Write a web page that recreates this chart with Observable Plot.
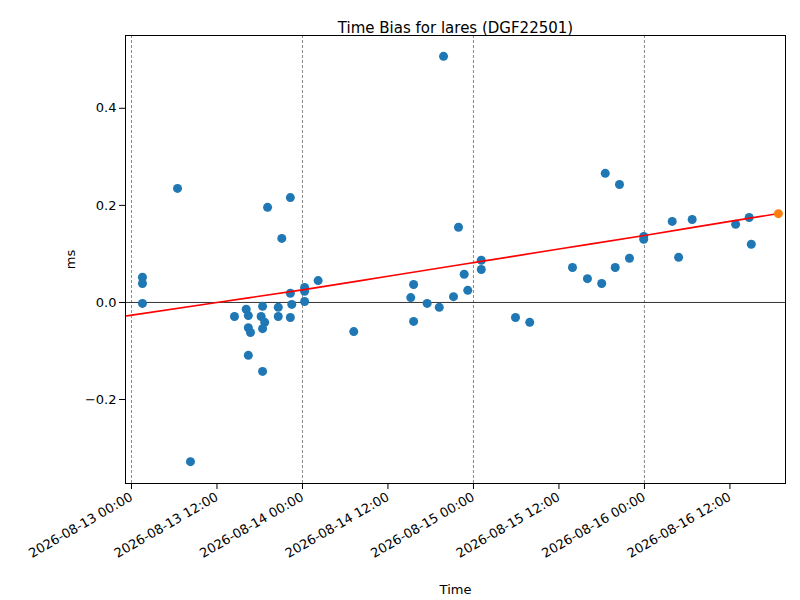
<!DOCTYPE html>
<html><head><meta charset="utf-8">
<script src="https://cdn.jsdelivr.net/npm/d3@7"></script>
<script src="https://cdn.jsdelivr.net/npm/@observablehq/plot@0.6"></script>
<style>body{margin:0;background:#fff}</style>
</head><body><div id="c"></div>
<script>
const startMs = Date.UTC(2026,7,13);
const hours = [1.54,1.54,1.54,6.46,8.28,14.46,16.1,16.4,16.4,16.7,16.4,18.4,18.2,18.7,18.4,18.4,19.1,20.6,20.6,21.1,22.3,22.3,22.5,22.3,24.3,24.3,24.3,26.2,31.2,39.2,39.6,39.6,41.5,43.2,43.8,45.2,45.9,46.7,47.2,49.1,49.1,53.9,55.9,61.9,64.0,66.0,66.5,67.9,68.5,69.9,71.9,71.9,75.9,76.8,78.7,84.8,86.7,87.0];
const bias = [0.052,0.039,-0.002,0.235,-0.328,-0.029,-0.014,-0.027,-0.052,-0.062,-0.109,-0.008,-0.029,-0.041,-0.054,-0.142,0.196,-0.010,-0.029,0.132,0.216,0.019,-0.004,-0.031,0.031,0.023,0.002,0.045,-0.060,0.010,0.037,-0.039,-0.002,-0.010,0.507,0.012,0.155,0.058,0.025,0.087,0.068,-0.031,-0.041,0.072,0.049,0.039,0.266,0.072,0.243,0.091,0.136,0.130,0.167,0.093,0.171,0.161,0.175,0.120];
const latestHour = [90.8], latestBias = [0.183];
const fitHours = [-0.8,12,24,36,48,60,72,84,90.8];
const fitBias = [-0.028,0.000,0.026,0.054,0.082,0.110,0.138,0.167,0.183];
const dayHours = [0,24,48,72];
const t = h => new Date(startMs + h*3600e3);
const pts = hours.map((h,i)=>({x:t(h),y:bias[i]}));
const last = latestHour.map((h,i)=>({x:t(h),y:latestBias[i]}));
const fit = fitHours.map((h,i)=>({x:t(h),y:fitBias[i]}));
const days = dayHours.map(t);
const chart = Plot.plot({
  width:800,height:600,marginLeft:125,marginRight:15,marginTop:35,marginBottom:117,
  style:{fontFamily:"DejaVu Sans",fontSize:"13px",color:"#000"},
  x:{type:"utc",domain:[t(-0.84),t(91.8)],ticks:d3.utcHour.every(12),tickFormat:d3.utcFormat("%Y-%m-%d %H:%M"),tickRotate:-30,label:"Time",labelAnchor:"center",labelArrow:"none",labelOffset:110},
  y:{domain:[-0.373,0.55],ticks:[-0.2,0,0.2,0.4],tickFormat:d3.format(".1f"),label:"ms",labelAnchor:"center",labelArrow:"none",labelOffset:60},
  marks:[
    Plot.ruleX(days,{stroke:"#555",strokeWidth:0.7,strokeDasharray:"3,2"}),
    Plot.ruleY([0],{stroke:"#000",strokeWidth:0.8}),
    Plot.dot(pts,{x:"x",y:"y",r:4.5,fill:"#1f77b4"}),
    Plot.line(fit,{x:"x",y:"y",stroke:"red",strokeWidth:1.6,curve:"monotone-x"}),
    Plot.dot(last,{x:"x",y:"y",r:4.5,fill:"#ff7f0e"}),
    Plot.frame({stroke:"#000"}),
    Plot.text(["Time Bias for lares (DGF22501)"],{frameAnchor:"top",dy:-13,fontSize:15,fill:"#000"})
  ]
});
document.getElementById("c").appendChild(chart);
</script></body></html>
